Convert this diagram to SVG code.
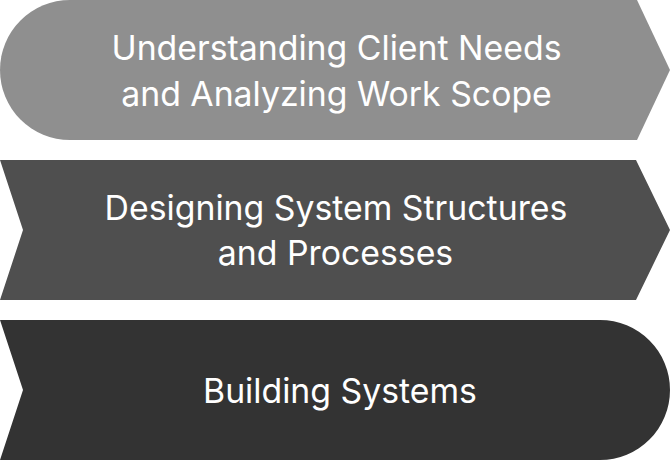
<svg xmlns="http://www.w3.org/2000/svg" width="670" height="460" viewBox="0 0 670 460">
<style>
.lbl{font-family:Inter,"Noto Sans","Liberation Sans",sans-serif;font-size:33.8px;fill:#ffffff;text-anchor:middle}
</style>
<rect width="670" height="460" fill="#ffffff"/>
<g id="step1">
<path d="M70,0 L637,0 L670,70 L637,140 L70,140 A70,70 0 0 1 70,0 Z" fill="#8f8f8f"/>
<text class="lbl" x="336.5" y="60">Understanding Client Needs</text>
<text class="lbl" x="336.5" y="106">and Analyzing Work Scope</text>
</g>
<g id="step2">
<path d="M0,160 L636,160 L670,230 L636,300 L0,300 L23,230 Z" fill="#4f4f4f"/>
<text class="lbl" x="336" y="220">Designing System Structures</text>
<text class="lbl" x="335.5" y="265">and Processes</text>
</g>
<g id="step3">
<path d="M0,320 L600,320 A70,70 0 0 1 600,460 L0,460 L23,390 Z" fill="#333333"/>
<text class="lbl" x="340" y="403">Building Systems</text>
</g>
<g id="connectors"></g>
</svg>
